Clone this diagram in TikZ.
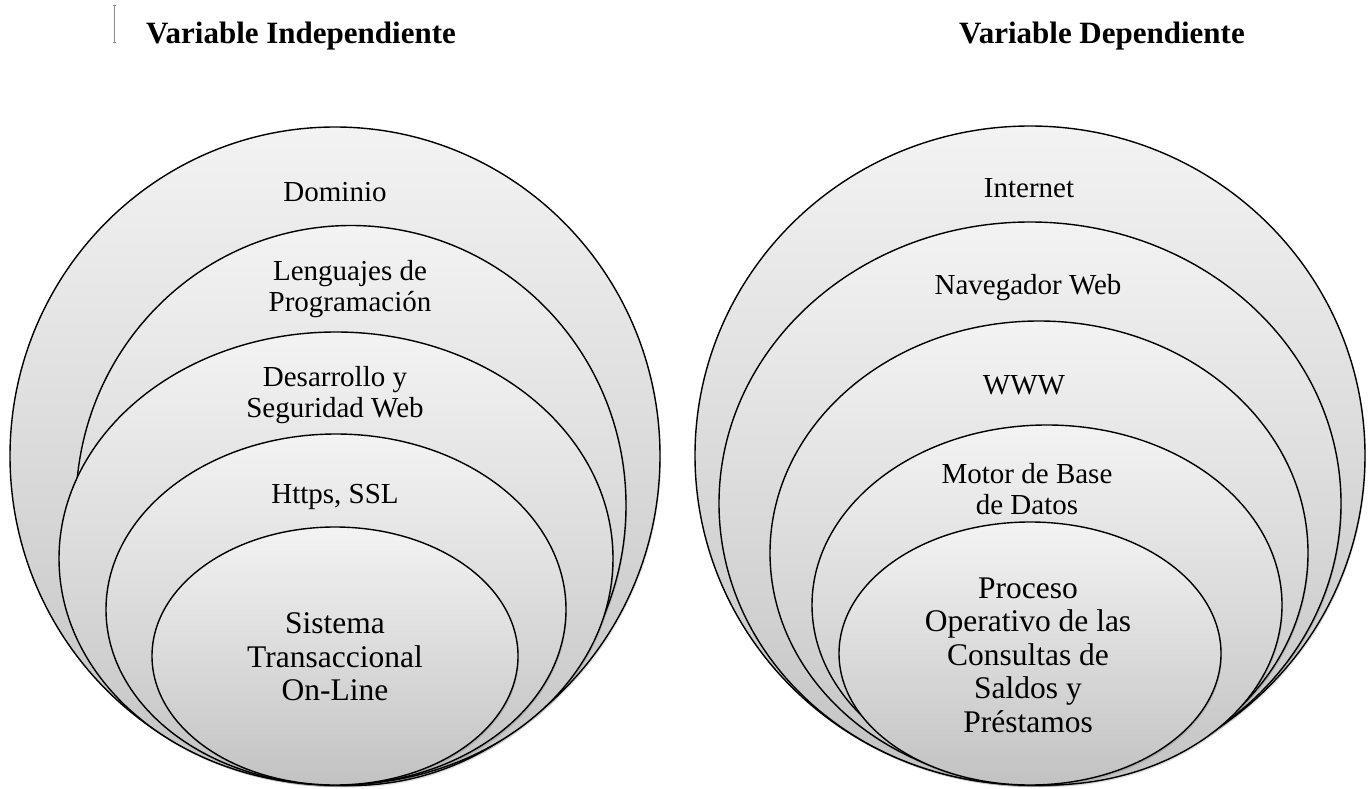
\documentclass[tikz,border=0pt]{standalone}
\usepackage{fontspec}
\setmainfont{Liberation Serif}
\usetikzlibrary{shadows}
\definecolor{ringtop}{HTML}{F3F3F3}
\definecolor{ringbot}{HTML}{C2C2C2}
\definecolor{cursorgray}{HTML}{8C8C8C}
\tikzset{
  ring/.style={draw=black, line width=1.4pt, top color=ringtop, bottom color=ringbot,
    drop shadow={shadow xshift=1pt, shadow yshift=-2pt, opacity=0.12, fill=black}},
  lbl/.style={align=center, inner sep=0pt, font=\fontsize{29}{30.5}\selectfont},
  lblbig/.style={align=center, inner sep=0pt, font=\fontsize{31.5}{33.5}\selectfont},
  ttl/.style={inner sep=0pt, font=\bfseries\fontsize{31}{33}\selectfont},
}
\begin{document}
\begin{tikzpicture}[x=1pt,y=-1pt]
\useasboundingbox (0,0) rectangle (1371,789);
% cursor mark
\draw[cursorgray, line width=0.8pt] (114,5) -- (114,42);
\draw[cursorgray, line width=0.8pt] (112.5,5) -- (115.5,5) (112.5,42) -- (115.5,42);
% titles
\node[ttl] (t1) at (301,36) {Variable Independiente};
\node[ttl] (t2) at (1102,36) {Variable Dependiente};
% left set
\path[ring] (335,456) ellipse [x radius=325, y radius=329];
\path[ring] (351,505.5) ellipse [x radius=275, y radius=280];
\path[ring] (336,558.5) ellipse [x radius=277, y radius=226.5];
\path[ring] (336,609.5) ellipse [x radius=230, y radius=175.5];
\path[ring] (335,656) ellipse [x radius=183, y radius=129];
\node[lbl] (l1) at (335,192) {Dominio};
\node[lbl] (l2) at (350,289) {Lenguajes de\\Programación};
\node[lbl] (l3) at (335,395) {Desarrollo y\\Seguridad Web};
\node[lbl] (l4) at (335,497) {Https, SSL};
\node[lblbig] (l5) at (335,657) {Sistema\\Transaccional\\On-Line};
% right set
\path[ring] (1030,455.5) ellipse [x radius=335, y radius=329.5];
\path[ring] (1030,503.5) ellipse [x radius=311, y radius=281.5];
\path[ring] (1039,553) ellipse [x radius=269, y radius=232];
\path[ring] (1047,605) ellipse [x radius=235, y radius=180];
\path[ring] (1030,653.5) ellipse [x radius=191, y radius=131.5];
\node[lbl] (r1) at (1029,188) {Internet};
\node[lbl] (r2) at (1028,288) {Navegador Web};
\node[lbl] (r3) at (1024,385) {WWW};
\node[lbl] (r4) at (1027,489) {Motor de Base\\de Datos};
\node[lblbig] (r5) at (1028,655) {Proceso\\Operativo de las\\Consultas de\\Saldos y\\Préstamos};
\end{tikzpicture}
\end{document}
